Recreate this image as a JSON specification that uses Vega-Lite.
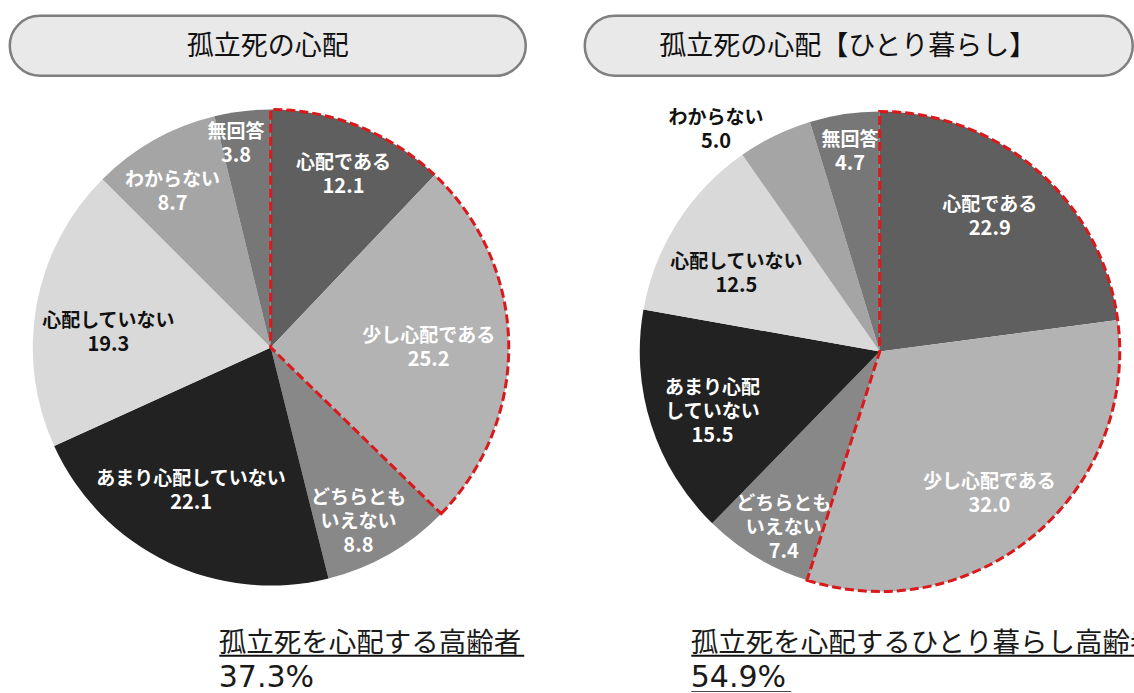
{
  "$schema": "https://vega.github.io/schema/vega-lite/v6.json",
  "padding": {"left": 7.75, "top": 13.75, "right": 0, "bottom": 0},
  "background": "white",
  "spacing": 0,
  "config": {"view": {"stroke": null}, "concat": {"spacing": 0}},
  "datasets": {
    "pie1": [
      {"i": 0, "cat": "心配である", "label": "心配である", "v": 12.1},
      {"i": 1, "cat": "少し心配である", "label": "少し心配である", "v": 25.2},
      {"i": 2, "cat": "どちらともいえない", "label": "どちらとも\nいえない", "v": 8.8},
      {"i": 3, "cat": "あまり心配していない", "label": "あまり心配していない", "v": 22.1},
      {"i": 4, "cat": "心配していない", "label": "心配していない", "v": 19.3},
      {"i": 5, "cat": "わからない", "label": "わからない", "v": 8.7},
      {"i": 6, "cat": "無回答", "label": "無回答", "v": 3.8}
    ],
    "pie2": [
      {"i": 0, "cat": "心配である", "label": "心配である", "v": 22.9},
      {"i": 1, "cat": "少し心配である", "label": "少し心配である", "v": 32.0},
      {"i": 2, "cat": "どちらともいえない", "label": "どちらとも\nいえない", "v": 7.4},
      {"i": 3, "cat": "あまり心配していない", "label": "あまり心配\nしていない", "v": 15.5},
      {"i": 4, "cat": "心配していない", "label": "心配していない", "v": 12.5},
      {"i": 5, "cat": "わからない", "label": "わからない", "v": 5.0},
      {"i": 6, "cat": "無回答", "label": "無回答", "v": 4.7}
    ]
  },
  "vconcat": [
    {
      "hconcat": [
        {
          "width": 516, "height": 60,
          "view": {"fill": "#e9e9e9", "stroke": "#7f7f7f", "strokeWidth": 2.5, "cornerRadius": 30},
          "data": {"values": [{"t": "孤立死の心配"}]},
          "mark": {"type": "text", "font": "Noto Sans CJK JP", "fontSize": 27, "color": "#111111", "baseline": "middle", "dy": 1.5},
          "encoding": {"text": {"field": "t"}}
        },
        {
          "width": 548, "height": 60,
          "view": {"fill": "#e9e9e9", "stroke": "#7f7f7f", "strokeWidth": 2.5, "cornerRadius": 30},
          "data": {"values": [{"t": "孤立死の心配【ひとり暮らし】"}]},
          "mark": {"type": "text", "font": "Noto Sans CJK JP", "fontSize": 27, "color": "#111111", "baseline": "middle", "dy": 1.5, "dx": -11},
          "encoding": {"text": {"field": "t"}}
        }
      ],
      "spacing": 59,
      "bounds": "flush"
    },
    {
      "hconcat": [
        {
          "width": 522, "height": 539.5,
          "data": {"name": "pie1"},
          "layer": [
            {
              "mark": {"type": "arc", "outerRadius": 238, "stroke": null},
              "encoding": {
                "theta": {"field": "v", "type": "quantitative", "stack": true, "scale": {"domain": [0, 100]}},
                "color": {"field": "cat", "type": "nominal", "legend": null,
                  "scale": {"domain": ["心配である", "少し心配である", "どちらともいえない", "あまり心配していない", "心配していない", "わからない", "無回答"],
                            "range": ["#5f5f5f", "#b3b3b3", "#888888", "#222222", "#d9d9d9", "#a5a5a5", "#777777"]}},
                "order": {"field": "i", "type": "quantitative"}
              }
            },
            {
              "data": {"values": [{"v": 37.3}]},
              "mark": {"type": "arc", "outerRadius": 238, "filled": false, "stroke": "#d9191c", "strokeWidth": 3, "strokeDash": [9, 4]},
              "encoding": {
                "theta": {"field": "v", "type": "quantitative", "stack": true, "scale": {"domain": [0, 100]}}
              }
            },
            {
              "mark": {"type": "text", "font": "Noto Sans CJK JP", "fontSize": 19, "fontWeight": "bold", "baseline": "bottom", "lineBreak": "\n", "lineHeight": 24,
                "radius": {"expr": "[188,158,200,165,164,184,207][datum.i]"},
                "dx": {"expr": "[3,0,-12,-8,-1,-8,-10][datum.i]"},
                "dy": {"expr": "[0,1,-13,-7,13,3,0][datum.i]"}},
              "encoding": {
                "theta": {"field": "v", "type": "quantitative", "stack": true, "scale": {"domain": [0, 100]}},
                "order": {"field": "i", "type": "quantitative"},
                "text": {"field": "label"},
                "color": {"condition": {"test": "datum.i === 4", "value": "#111111"}, "value": "#ffffff"}
              }
            },
            {
              "mark": {"type": "text", "font": "Noto Sans CJK JP", "fontSize": 20, "fontWeight": "bold", "baseline": "top",
                "radius": {"expr": "[188,158,200,165,164,184,207][datum.i]"},
                "dx": {"expr": "[3,0,-12,-8,-1,-8,-10][datum.i]"},
                "dy": {"expr": "[4,5,15,-3,17,7,4][datum.i]"}},
              "encoding": {
                "theta": {"field": "v", "type": "quantitative", "stack": true, "scale": {"domain": [0, 100]}},
                "order": {"field": "i", "type": "quantitative"},
                "text": {"field": "v", "type": "quantitative", "format": ".1f"},
                "color": {"condition": {"test": "datum.i === 4", "value": "#111111"}, "value": "#ffffff"}
              }
            }
          ]
        },
        {
          "width": 478, "height": 547.5,
          "data": {"name": "pie2"},
          "layer": [
            {
              "mark": {"type": "arc", "outerRadius": 240, "stroke": null},
              "encoding": {
                "theta": {"field": "v", "type": "quantitative", "stack": true, "scale": {"domain": [0, 100]}},
                "color": {"field": "cat", "type": "nominal", "legend": null,
                  "scale": {"domain": ["心配である", "少し心配である", "どちらともいえない", "あまり心配していない", "心配していない", "わからない", "無回答"],
                            "range": ["#5f5f5f", "#b3b3b3", "#888888", "#222222", "#d9d9d9", "#a8a8a8", "#7a7a7a"]}},
                "order": {"field": "i", "type": "quantitative"}
              }
            },
            {
              "data": {"values": [{"v": 54.9}]},
              "mark": {"type": "arc", "outerRadius": 240, "filled": false, "stroke": "#d9191c", "strokeWidth": 3, "strokeDash": [9, 4]},
              "encoding": {
                "theta": {"field": "v", "type": "quantitative", "stack": true, "scale": {"domain": [0, 100]}}
              }
            },
            {
              "mark": {"type": "text", "font": "Noto Sans CJK JP", "fontSize": 19, "fontWeight": "bold", "baseline": "bottom", "lineBreak": "\n", "lineHeight": 24,
                "radius": {"expr": "[173,180,212,182,163,260,202][datum.i]"},
                "dx": {"expr": "[-4,-6,13,6,-6,-50,0][datum.i]"},
                "dy": {"expr": "[-6,3,-19,-9,8,10,-2][datum.i]"}},
              "encoding": {
                "theta": {"field": "v", "type": "quantitative", "stack": true, "scale": {"domain": [0, 100]}},
                "order": {"field": "i", "type": "quantitative"},
                "text": {"field": "label"},
                "color": {"condition": {"test": "datum.i === 4 || datum.i === 5", "value": "#111111"}, "value": "#ffffff"}
              }
            },
            {
              "mark": {"type": "text", "font": "Noto Sans CJK JP", "fontSize": 20, "fontWeight": "bold", "baseline": "top",
                "radius": {"expr": "[173,180,212,182,163,260,202][datum.i]"},
                "dx": {"expr": "[-4,-6,13,6,-6,-50,0][datum.i]"},
                "dy": {"expr": "[-2,7,9,19,12,14,2][datum.i]"}},
              "encoding": {
                "theta": {"field": "v", "type": "quantitative", "stack": true, "scale": {"domain": [0, 100]}},
                "order": {"field": "i", "type": "quantitative"},
                "text": {"field": "v", "type": "quantitative", "format": ".1f"},
                "color": {"condition": {"test": "datum.i === 4 || datum.i === 5", "value": "#111111"}, "value": "#ffffff"}
              }
            }
          ]
        }
      ],
      "spacing": 109,
      "bounds": "flush"
    },
    {
      "hconcat": [
        {"width": 209, "height": 29.5, "data": {"values": [{}]}, "mark": {"type": "text", "text": ""}, "encoding": {}},
        {
          "width": 305, "height": 29.5,
          "data": {"values": [{"t": "孤立死を心配する高齢者"}]},
          "mark": {"type": "text", "align": "left", "baseline": "middle", "font": "Noto Sans CJK JP", "fontSize": 27.5, "color": "#1a1a1a", "dy": 3.7, "clip": true},
          "encoding": {
            "text": {"field": "t"},
            "x": {"datum": 0, "type": "quantitative", "scale": {"domain": [0, 1]},
              "axis": {"domain": true, "domainColor": "#111111", "domainWidth": 2, "ticks": false, "labels": false, "grid": false, "title": null}}
          }
        },
        {"width": 167, "height": 29.5, "data": {"values": [{}]}, "mark": {"type": "text", "text": ""}, "encoding": {}},
        {
          "width": 444, "height": 29.5,
          "data": {"values": [{"t": "孤立死を心配するひとり暮らし高齢者"}]},
          "mark": {"type": "text", "align": "left", "baseline": "middle", "font": "Noto Sans CJK JP", "fontSize": 27.5, "color": "#1a1a1a", "dy": 3.7, "clip": true},
          "encoding": {
            "text": {"field": "t"},
            "x": {"datum": 0, "type": "quantitative", "scale": {"domain": [0, 1]},
              "axis": {"domain": true, "domainColor": "#111111", "domainWidth": 2, "ticks": false, "labels": false, "grid": false, "title": null}}
          }
        }
      ],
      "spacing": 0,
      "bounds": "flush"
    },
    {
      "hconcat": [
        {"width": 209, "height": 36, "data": {"values": [{}]}, "mark": {"type": "text", "text": ""}, "encoding": {}},
        {
          "width": 140, "height": 36,
          "data": {"values": [{"t": "37.3%"}]},
          "mark": {"type": "text", "align": "left", "baseline": "middle", "font": "DejaVu Sans", "fontSize": 30, "color": "#1a1a1a", "dy": 4.5, "clip": true},
          "encoding": {
            "text": {"field": "t"},
            "x": {"datum": 0, "type": "quantitative", "scale": {"domain": [0, 1]}, "axis": null}
          }
        },
        {"width": 332, "height": 36, "data": {"values": [{}]}, "mark": {"type": "text", "text": ""}, "encoding": {}},
        {
          "width": 100, "height": 36,
          "data": {"values": [{"t": "54.9%"}]},
          "mark": {"type": "text", "align": "left", "baseline": "middle", "font": "DejaVu Sans", "fontSize": 30, "color": "#1a1a1a", "dy": 4.5, "clip": true},
          "encoding": {
            "text": {"field": "t"},
            "x": {"datum": 0, "type": "quantitative", "scale": {"domain": [0, 1]},
              "axis": {"domain": true, "domainColor": "#111111", "domainWidth": 2, "ticks": false, "labels": false, "grid": false, "title": null}}
          }
        }
      ],
      "spacing": 0,
      "bounds": "flush"
    }
  ]
}
